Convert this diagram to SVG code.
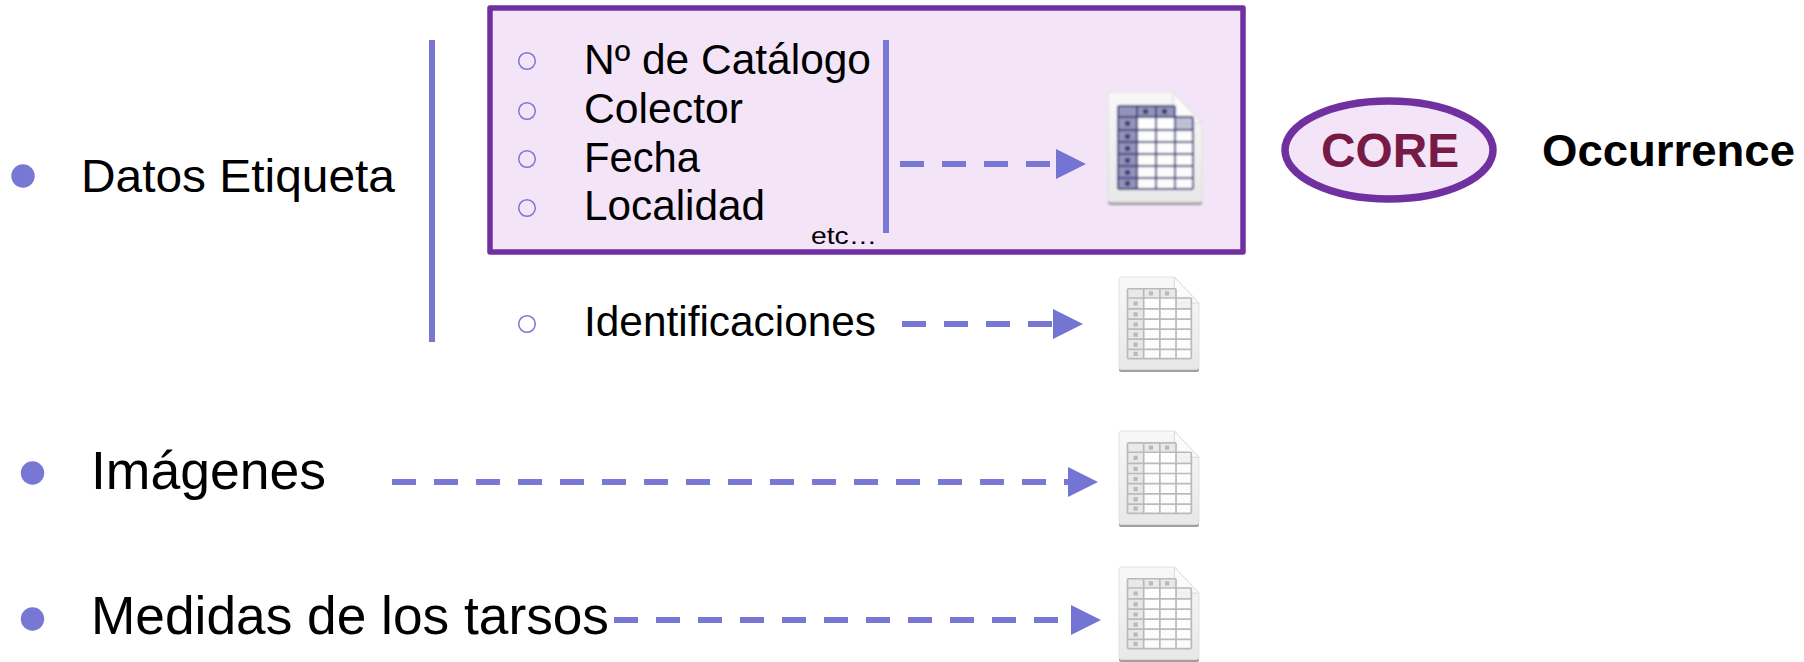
<svg xmlns="http://www.w3.org/2000/svg" width="1804" height="662" viewBox="0 0 1804 662">
<style>
text{font-family:"Liberation Sans",Arial,sans-serif;fill:#000}
.t42{font-size:42px}
.sub{fill:none;stroke:#7878d4;stroke-width:1.5}
.dot{fill:#7878d4}
.bar{stroke:#7878d4;stroke-width:6;fill:none}
.dash{stroke:#7878d4;stroke-width:6;fill:none;stroke-dasharray:24 18}
.head{fill:#7474d2}
.dark{color:#3c3c80;--f:.55}
.pale{color:#bababa;--f:.3}
.shade{fill:#777;opacity:.7}
.col{fill:currentColor;fill-opacity:var(--f)}
</style>
<defs>
<linearGradient id="page" x1="0" y1="0" x2="0" y2="1"><stop offset="0" stop-color="#f8f8f8"/><stop offset="1" stop-color="#e8e8e8"/></linearGradient>
<filter id="soft" x="-10%" y="-10%" width="120%" height="120%"><feGaussianBlur stdDeviation="0.9"/></filter>
<symbol id="sheet" viewBox="0 0 94 113" overflow="visible" preserveAspectRatio="none">
<g filter="url(#soft)">
<path class="shade" d="M3 60H91Q94 60 94 63V111Q94 113 92 113H3Q0 113 0 110V63Q0 60 3 60Z"/>
<path d="M3 0H65L94 31V107Q94 110 91 110H3Q0 110 0 107V3Q0 0 3 0Z" fill="url(#page)" stroke="#dedede" stroke-width="1"/>
<path d="M65 0L94 31H72Q65 31 65 24Z" fill="#fbfbfb" stroke="#d4d4d4" stroke-width="1"/>
<path d="M10 14H67V25H85V97H10Z" fill="#fff" opacity=".85"/>
<path class="col" d="M10 14H67V25H29V97H10Z"/>
<path class="col" d="M67 25H85V37H67Z" opacity=".6"/>
<path d="M10 14H67M10 25H85M10 38H85M10 50H85M10 62H85M10 74H85M10 86H85M10 97H85M10 14V97M29 14V97M48 14V97M67 14V97M85 25V97" fill="none" stroke="currentColor" stroke-width="2"/>
<path d="M36 18h3v3h-3zM55 18h3v3h-3zM18 30h3v3h-3zM18 43h3v3h-3zM18 55h3v3h-3zM18 67h3v3h-3zM18 79h3v3h-3zM18 90h3v3h-3z" fill="currentColor" stroke="currentColor" stroke-width="2"/>
</g>
</symbol>
</defs>

<g id="occurrence-box">
<rect x="490" y="8" width="753" height="244" fill="#f3e5f7" stroke="#7030a0" stroke-width="5.500" stroke-linejoin="round"/>
</g>

<g id="connectors">
<line class="bar" x1="432" y1="40" x2="432" y2="342"/>
<line class="bar" x1="886" y1="40" x2="886" y2="233"/>
<line class="dash" x1="900" y1="164" x2="1056" y2="164"/>
<path class="head" d="M1056 149L1086 164L1056 179Z"/>
<line class="dash" x1="902" y1="324" x2="1053" y2="324"/>
<path class="head" d="M1053 309L1083 324L1053 339Z"/>
<line class="dash" x1="392" y1="482" x2="1068" y2="482"/>
<path class="head" d="M1068 467L1098 482L1068 497Z"/>
<line class="dash" x1="614" y1="620" x2="1071" y2="620"/>
<path class="head" d="M1071 605L1101 620L1071 635Z"/>
</g>

<g id="datos-etiqueta">
<circle class="dot" cx="23" cy="176" r="11.700"/>
<text x="81" y="192" font-size="46" textLength="314" lengthAdjust="spacingAndGlyphs">Datos Etiqueta</text>
</g>
<g id="catalogo"><circle class="sub" cx="527" cy="61" r="8.300"/><text x="584" y="74" class="t42" textLength="287" lengthAdjust="spacingAndGlyphs">Nº de Catálogo</text></g>
<g id="colector"><circle class="sub" cx="527" cy="111" r="8.300"/><text x="584" y="123" class="t42" textLength="159" lengthAdjust="spacingAndGlyphs">Colector</text></g>
<g id="fecha"><circle class="sub" cx="527" cy="159" r="8.300"/><text x="584" y="172" class="t42" textLength="116" lengthAdjust="spacingAndGlyphs">Fecha</text></g>
<g id="localidad"><circle class="sub" cx="527" cy="208" r="8.300"/><text x="584" y="220" class="t42" textLength="181" lengthAdjust="spacingAndGlyphs">Localidad</text></g>
<g id="etc"><text x="811" y="244" font-size="24" textLength="66" lengthAdjust="spacingAndGlyphs">etc…</text></g>
<g id="identificaciones"><circle class="sub" cx="527" cy="324" r="8.300"/><text x="584" y="336" class="t42" textLength="292" lengthAdjust="spacingAndGlyphs">Identificaciones</text></g>
<g id="imagenes">
<circle class="dot" cx="32.500" cy="473" r="11.700"/>
<text x="91" y="489" font-size="54" textLength="235" lengthAdjust="spacingAndGlyphs">Imágenes</text>
</g>
<g id="medidas">
<circle class="dot" cx="32.500" cy="619" r="11.700"/>
<text x="91" y="634" font-size="54" textLength="518" lengthAdjust="spacingAndGlyphs">Medidas de los tarsos</text>
</g>

<g id="table-occurrence" class="dark"><use href="#sheet" x="1108" y="92" width="94" height="113"/></g>
<g id="table-identificaciones" class="pale"><use href="#sheet" x="1119" y="277" width="80" height="95"/></g>
<g id="table-imagenes" class="pale"><use href="#sheet" x="1119" y="431" width="80" height="96"/></g>
<g id="table-medidas" class="pale"><use href="#sheet" x="1119" y="567" width="80" height="95"/></g>

<g id="core">
<ellipse cx="1389" cy="150" rx="104" ry="49" fill="#f3e5f7" stroke="#7030a0" stroke-width="7.500"/>
<text x="1321" y="167" font-size="48" font-weight="700" style="fill:#771a45" textLength="138" lengthAdjust="spacingAndGlyphs">CORE</text>
</g>
<g id="occurrence-label">
<text x="1542" y="166" font-size="44" font-weight="700" textLength="253" lengthAdjust="spacingAndGlyphs">Occurrence</text>
</g>
</svg>
